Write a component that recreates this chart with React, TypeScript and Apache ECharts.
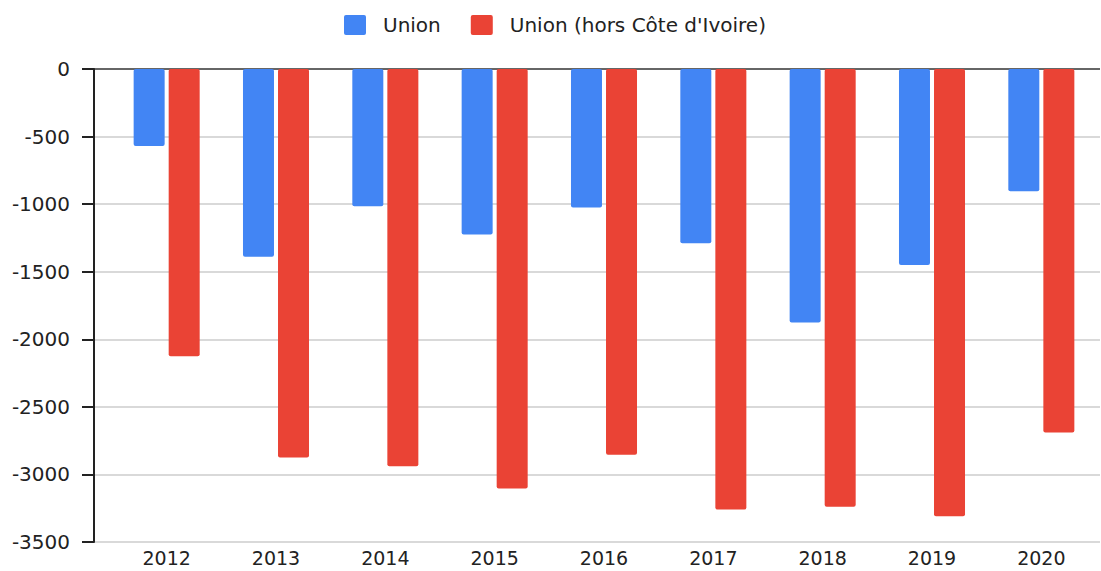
import React, { useEffect, useRef } from "react";
import * as echarts from "echarts";

const categories = ["2012", "2013", "2014", "2015", "2016", "2017", "2018", "2019", "2020"];
const unionValues = [-570, -1390, -1015, -1225, -1025, -1290, -1875, -1450, -905];
const unionHorsCIValues = [-2125, -2875, -2940, -3105, -2855, -3260, -3240, -3310, -2690];
const seriesNames = ["Union", "Union (hors Côte d'Ivoire)"];
const yMin = -3500;
const yMax = 0;
const yInterval = 500;

export default function App() {
  const ref = useRef<HTMLDivElement>(null);
  useEffect(() => {
    if (!ref.current) return;
    const chart = echarts.init(ref.current, null, { renderer: "svg" });
    const font = "'DejaVu Sans', sans-serif";
    const splitColors = ["#cccccc", "#cccccc", "#cccccc", "#cccccc", "#cccccc", "#cccccc", "#cccccc", "#333333"];
    const legendIcon = "path://M2,0 H20 Q22,0 22,2 V18 Q22,20 20,20 H2 Q0,20 0,18 V2 Q0,0 2,0 Z";
    chart.setOption({
      animation: false,
      backgroundColor: "#ffffff",
      textStyle: { fontFamily: font },
      legend: {
        left: 339,
        top: 10,
        itemWidth: 22,
        itemHeight: 20,
        itemGap: 30,
        icon: legendIcon,
        textStyle: { fontSize: 20, color: "#222", fontFamily: font, padding: [0, 0, 0, 12] },
        data: seriesNames,
      },
      grid: [
        { left: 94, right: 1, top: 69, bottom: 29, containLabel: false },
        { left: 112, right: 5, top: 69, bottom: 29, containLabel: false },
      ],
      xAxis: [
        {
          gridIndex: 0,
          type: "category",
          data: [""],
          show: false,
        },
        {
          gridIndex: 1,
          type: "category",
          data: categories,
          axisLine: { show: false },
          axisTick: { show: false },
          axisLabel: { fontSize: 19, color: "#222", margin: 6, lineHeight: 20, fontFamily: font },
        },
      ],
      yAxis: [
        {
          gridIndex: 0,
          type: "value",
          min: yMin,
          max: yMax,
          interval: yInterval,
          axisLine: { show: true, lineStyle: { color: "#222", width: 2 } },
          axisTick: { show: true, length: 12, lineStyle: { color: "#222", width: 2 } },
          axisLabel: {
            fontSize: 20,
            color: "#222",
            margin: 24,
            fontFamily: font,
            formatter: (v: number) => String(v),
          },
          splitLine: { show: true, lineStyle: { color: splitColors, width: 1.5 } },
        },
        {
          gridIndex: 1,
          type: "value",
          min: yMin,
          max: yMax,
          interval: yInterval,
          show: false,
          splitLine: { show: false },
        },
      ],
      series: [
        {
          name: seriesNames[0],
          type: "bar",
          xAxisIndex: 1,
          yAxisIndex: 1,
          data: unionValues,
          barWidth: 31,
          barGap: "13%",
          itemStyle: { color: "#4285F4", borderRadius: 2 },
        },
        {
          name: seriesNames[1],
          type: "bar",
          xAxisIndex: 1,
          yAxisIndex: 1,
          data: unionHorsCIValues,
          barWidth: 31,
          barGap: "13%",
          itemStyle: { color: "#EA4335", borderRadius: 2 },
        },
      ],
    });
    return () => chart.dispose();
  }, []);
  return (
    <div
      ref={ref}
      style={{ position: "fixed", left: 0, top: 0, width: 1101, height: 571 }}
    />
  );
}
